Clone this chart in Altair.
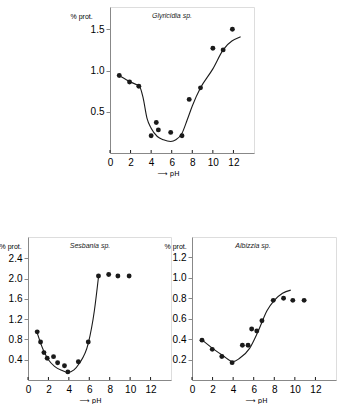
import altair as alt
import pandas as pd

# ---- data ----
x_ticks = [0, 2, 4, 6, 8, 10, 12]

gly_x = [0.9, 1.9, 2.8, 4.0, 4.5, 4.7, 5.9, 7.0, 7.7, 8.8, 10.0, 11.0, 11.9]
gly_y = [0.94, 0.86, 0.81, 0.21, 0.37, 0.28, 0.25, 0.21, 0.65, 0.79, 1.27, 1.25, 1.50]
gly_cx = [1.0, 2.0, 2.9, 3.2, 3.6, 4.0, 4.6, 5.2, 5.9, 6.4, 7.0, 7.5, 8.0, 8.8, 10.0, 11.0, 12.7]
gly_cy = [0.93, 0.86, 0.80, 0.68, 0.42, 0.30, 0.20, 0.16, 0.14, 0.16, 0.24, 0.40, 0.57, 0.79, 1.02, 1.25, 1.41]
gly_yticks = [0.5, 1.0, 1.5]

ses_x = [0.9, 1.23, 1.56, 1.88, 2.5, 2.9, 3.57, 3.9, 4.93, 5.9, 6.9, 7.9, 8.8, 9.9]
ses_y = [0.95, 0.75, 0.54, 0.43, 0.46, 0.34, 0.28, 0.16, 0.36, 0.75, 2.05, 2.08, 2.05, 2.05]
ses_cx = [0.9, 1.5, 2.0, 2.6, 3.3, 3.9, 4.5, 5.0, 5.9, 6.5, 6.9]
ses_cy = [0.93, 0.59, 0.40, 0.27, 0.19, 0.15, 0.20, 0.32, 0.72, 1.37, 2.03]
ses_yticks = [0.4, 0.8, 1.2, 1.6, 2.0, 2.4]

alb_x = [0.97, 1.97, 2.9, 3.9, 4.9, 5.45, 5.8, 6.3, 6.8, 7.9, 8.9, 9.8, 10.9]
alb_y = [0.39, 0.30, 0.23, 0.17, 0.34, 0.34, 0.50, 0.48, 0.58, 0.78, 0.80, 0.78, 0.78]
alb_cx = [1.0, 2.0, 3.0, 4.0, 4.6, 5.6, 6.4, 7.3, 8.0, 8.8, 9.6]
alb_cy = [0.39, 0.31, 0.24, 0.18, 0.21, 0.31, 0.47, 0.68, 0.78, 0.85, 0.88]
alb_yticks = [0.2, 0.4, 0.6, 0.8, 1.0, 1.2]

FONT = "Liberation Sans"
INK = "#1a1a1a"


def panel(px, py, cx, cy, yticks, ymax, width, height, name,
          ytitle_x, name_x, xtitle_x):
    pts = pd.DataFrame({"pH": px, "prot": py})
    crv = pd.DataFrame({"pH": cx, "prot": cy})
    tks = pd.DataFrame({"t": x_ticks})
    xs = alt.Scale(domain=[0, 14], nice=False, zero=False)
    ys = alt.Scale(domain=[0, ymax], nice=False, zero=False)
    xaxis = alt.Axis(values=x_ticks, tickCount=len(x_ticks), ticks=False,
                     grid=False, labelPadding=4, labelOverlap=False,
                     title="⟶   pH", titleX=xtitle_x, titleY=20,
                     titleAlign="center", titleBaseline="middle",
                     titleFontWeight="normal",
                     titleFont="DejaVu Sans", titleFontSize=7, labelFlush=False)
    yaxis = alt.Axis(values=yticks, tickCount=len(yticks), format=".1f",
                     grid=False, tickSize=4, labelOverlap=False,
                     labelPadding=2, title="% prot.", titleAngle=0,
                     titleX=ytitle_x, titleY=9, titleAlign="left",
                     titleBaseline="middle", titleFontWeight="normal",
                     titleFontSize=7, labelFlush=False)
    line = alt.Chart(crv).mark_line(color=INK, strokeWidth=1.1,
                                    interpolate="monotone").encode(
        x=alt.X("pH:Q", scale=xs, axis=xaxis),
        y=alt.Y("prot:Q", scale=ys, axis=yaxis),
    )
    dots = alt.Chart(pts).mark_circle(color=INK, opacity=1, size=24).encode(
        x=alt.X("pH:Q", scale=xs), y=alt.Y("prot:Q", scale=ys)
    )
    ticks = alt.Chart(tks).mark_rule(color=INK, strokeWidth=1).encode(
        x=alt.X("t:Q", scale=xs), y=alt.value(height), y2=alt.value(height - 3)
    )
    label = alt.Chart(pd.DataFrame({"n": [name]})).mark_text(
        font=FONT, fontSize=7, fontStyle="italic", color=INK,
        align="center", baseline="middle"
    ).encode(text="n:N", x=alt.value(name_x), y=alt.value(9))
    return alt.layer(line, dots, ticks, label).properties(width=width, height=height)


top = panel(gly_x, gly_y, gly_cx, gly_cy, gly_yticks, 1.77, 144, 146,
            "Glyricidia sp.", -40, 62, 58)
bl = panel(ses_x, ses_y, ses_cx, ses_cy, ses_yticks, 2.82, 143, 143,
           "Sesbania sp.", -29, 62, 62)
br = panel(alb_x, alb_y, alb_cx, alb_cy, alb_yticks, 1.40, 144, 143,
           "Albizzia sp.", -28, 61, 64)

spacer = alt.Chart(pd.DataFrame({"a": [0]})).mark_point(
    size=0, opacity=0, strokeWidth=0
).encode(x=alt.value(0), y=alt.value(0)).properties(
    width=72, height=0,
    view=alt.ViewBackground(stroke="transparent", fill="transparent",
                            strokeOpacity=0, fillOpacity=0),
)

row1 = alt.hconcat(spacer, top, spacing=10, bounds="flush")
row2 = alt.hconcat(bl, br, spacing=21, bounds="flush")

chart = alt.vconcat(row1, row2, spacing=59).properties(
    padding={"left": -2, "top": 6, "right": 0, "bottom": 0}
).configure_view(strokeWidth=0, stroke="transparent").configure_axis(
    domainColor=INK, domainWidth=1, tickColor=INK, tickWidth=1,
    labelFont=FONT, labelFontSize=7, labelColor=INK,
    titleFont=FONT, titleColor=INK,
).configure(background="white")

chart.save("out.html", embed_options={"renderer": "svg", "actions": False})
